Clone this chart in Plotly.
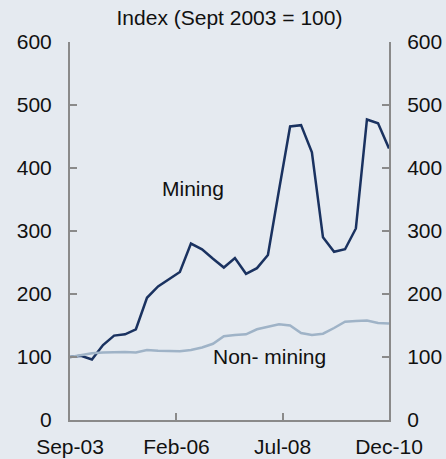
import pandas as pd
import plotly.graph_objects as go

# Quarterly, Sep-03 .. Dec-10, index Sept 2003 = 100
dates = pd.date_range('2003-09-01', '2010-12-01', freq='3MS')

mining = [100, 102, 96, 119, 134, 136, 144, 194, 212, 223,
          235, 280, 271, 256, 242, 257, 232, 241, 262, 365,
          466, 468, 425, 290, 267, 271, 304, 477, 471, 431]

non_mining = [100, 103, 106, 107, 108, 108, 107, 111, 110, 109,
              109, 111, 115, 121, 133, 135, 136, 144, 148, 152,
              150, 138, 135, 137, 146, 156, 157, 158, 154, 153]

x_tick_vals = ['2003-09-01', '2006-02-01', '2008-07-01', '2010-12-01']
x_tick_text = ['Sep-03', 'Feb-06', 'Jul-08', 'Dec-10']
y_ticks = [0, 100, 200, 300, 400, 500, 600]

NAVY = '#1a3260'
LIGHT = '#9fb3c7'
AXIS = '#8a8a8a'
BG = '#e5eaf0'
FONT = 'Liberation Sans, Arial, sans-serif'

fig = go.Figure()
fig.add_trace(go.Scatter(
    x=dates, y=non_mining, mode='lines', name='Non- mining',
    line=dict(color=LIGHT, width=2.5), yaxis='y2'))
fig.add_trace(go.Scatter(
    x=dates, y=mining, mode='lines', name='Mining',
    line=dict(color=NAVY, width=2.5)))

_yax = dict(range=[0, 600], tickvals=y_ticks, ticks='inside', ticklen=7,
            tickwidth=2, tickcolor=AXIS, showline=True, linecolor=AXIS,
            linewidth=2, showgrid=False, zeroline=False, fixedrange=True,
            ticklabelstandoff=12, automargin=False)

fig.update_layout(
    width=446, height=459,
    margin=dict(l=70, r=57, t=42, b=39),
    paper_bgcolor=BG, plot_bgcolor=BG,
    font=dict(family=FONT, size=21, color='#111111'),
    showlegend=False,
    title=dict(text='Index (Sept 2003 = 100)', x=0.5, xref='paper',
               y=1 - 18 / 459, yref='container', yanchor='middle',
               xanchor='center', font=dict(size=21)),
    xaxis=dict(range=[dates[0], dates[-1]], tickvals=x_tick_vals,
               ticktext=x_tick_text, ticks='inside', ticklen=7, tickwidth=2,
               tickcolor=AXIS, showline=True, linecolor=AXIS, linewidth=2,
               showgrid=False, zeroline=False, ticklabelstandoff=7,
               automargin=False),
    yaxis=dict(_yax, side='left'),
    yaxis2=dict(_yax, side='right', overlaying='y'),
    annotations=[
        dict(x='2006-06-15', y=368, text='Mining', showarrow=False,
             xanchor='center', yanchor='middle'),
        dict(x='2008-03-10', y=101, text='Non- mining', showarrow=False,
             xanchor='center', yanchor='middle'),
    ],
)

# page body has an 8px default margin; drop it so the figure fills the window
fig.write_html('out.html', config={'displayModeBar': False},
               post_script="document.body.style.margin='0';"
                           "document.body.style.overflow='hidden';")
